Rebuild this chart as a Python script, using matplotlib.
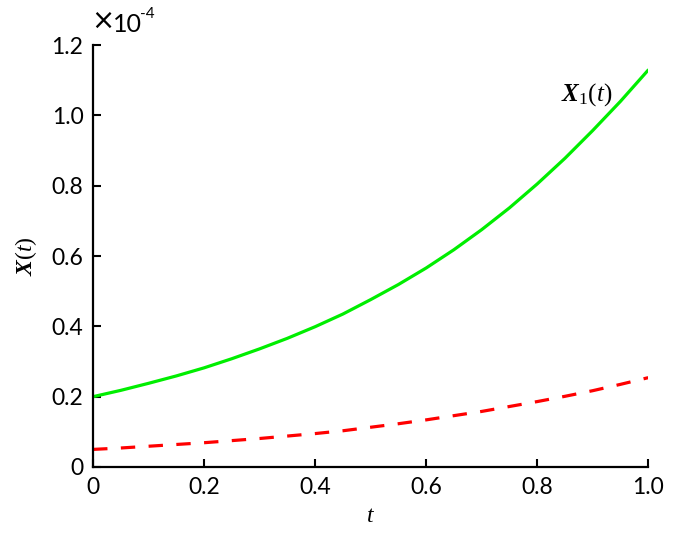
import matplotlib
matplotlib.use("Agg")
import matplotlib.pyplot as plt

# values (units of 1e-4)
t = [0.0, 0.05, 0.1, 0.15, 0.2, 0.25, 0.3, 0.35, 0.4, 0.45, 0.5,
     0.55, 0.6, 0.65, 0.7, 0.75, 0.8, 0.85, 0.9, 0.95, 1.0]
x1 = [0.200, 0.218, 0.238, 0.259, 0.282, 0.308, 0.336, 0.366, 0.399, 0.435, 0.476,
      0.519, 0.566, 0.618, 0.675, 0.737, 0.805, 0.878, 0.957, 1.040, 1.129]
x2 = [0.050, 0.054, 0.059, 0.064, 0.069, 0.075, 0.081, 0.088, 0.095, 0.103, 0.113,
      0.123, 0.134, 0.146, 0.158, 0.172, 0.186, 0.201, 0.217, 0.235, 0.254]

xticks = [0, 0.2, 0.4, 0.6, 0.8, 1.0]
xtick_labels = ["0", "0.2", "0.4", "0.6", "0.8", "1.0"]
yticks = [0, 0.2, 0.4, 0.6, 0.8, 1.0, 1.2]
ytick_labels = ["0", "0.2", "0.4", "0.6", "0.8", "1.0", "1.2"]

plt.rcParams["font.family"] = ["Lato", "DejaVu Sans"]
plt.rcParams["mathtext.fontset"] = "custom"
plt.rcParams["mathtext.rm"] = "Liberation Serif"
plt.rcParams["mathtext.it"] = "Liberation Serif:italic"
plt.rcParams["mathtext.bf"] = "Liberation Serif:bold"
plt.rcParams["mathtext.bfit"] = "Liberation Serif:italic:bold"

fig = plt.figure(figsize=(7, 5.37), dpi=100)
ax = fig.add_axes([0.133, 0.1304, 0.793, 0.7856])

ax.plot(t, x1, color="#00ee00", lw=2.3, solid_capstyle="round")
ax.plot(t, x2, color="#ff0000", lw=2.3, dashes=(4.5, 4.2))

ax.set_xlim(0, 1.0)
ax.set_ylim(0, 1.2)
ax.set_xticks(xticks)
ax.set_xticklabels(xtick_labels)
ax.set_yticks(yticks)
ax.set_yticklabels(ytick_labels)

for s in ("top", "right"):
    ax.spines[s].set_visible(False)
for s in ("left", "bottom"):
    ax.spines[s].set_linewidth(1.6)
ax.tick_params(direction="in", length=6, width=1.5, labelsize=16.5, pad=7)

ax.set_xlabel(r"$t$", fontsize=17, labelpad=5)
ax.set_ylabel(r"$\mathbfit{X}(t)$", fontsize=17, labelpad=9)

# exponent label, drawn as pieces so the "x10" is large and "-4" small
ax.text(-0.004, 1.025, "\u00d7", transform=ax.transAxes, fontsize=20,
        ha="left", va="bottom", family="DejaVu Sans")
ax.text(0.036, 1.022, "10", transform=ax.transAxes, fontsize=18,
        ha="left", va="bottom")
ax.text(0.085, 1.058, "-4", transform=ax.transAxes, fontsize=11,
        ha="left", va="bottom")
ax.text(0.89, 1.058, r"$\mathbfit{X}_1(t)$", fontsize=18, ha="center", va="center")

fig.savefig("out.png", dpi=100)
